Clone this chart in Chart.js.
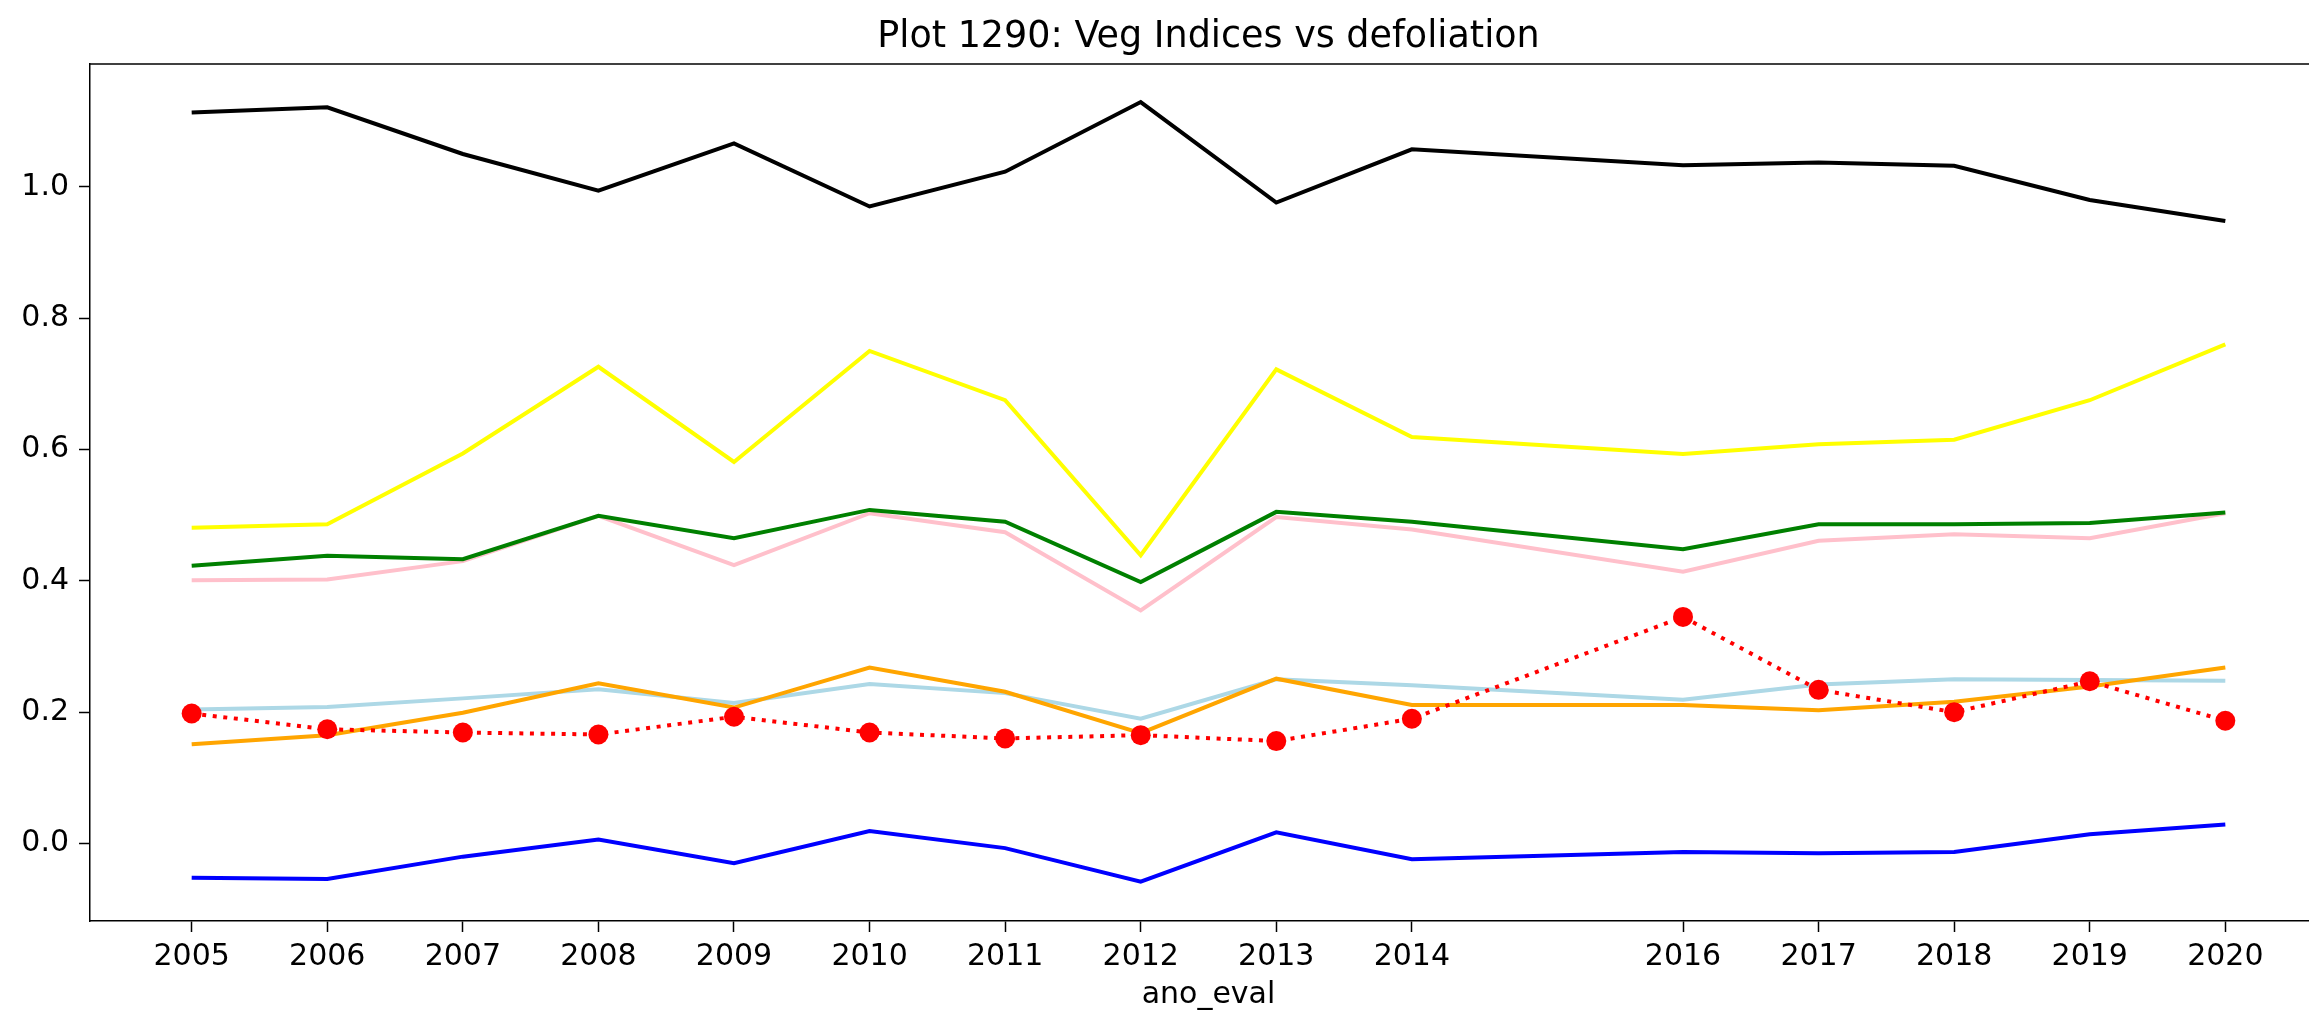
<!DOCTYPE html>
<html>
<head>
<meta charset="utf-8">
<script src="https://cdn.jsdelivr.net/npm/chart.js@4.4.1/dist/chart.umd.min.js"></script>
<style>
  html, body { margin: 0; padding: 0; background: #fff; overflow: hidden; }
  #grafico { display: block; }
</style>
</head>
<body>
<canvas id="grafico" width="2418" height="1015"></canvas>
<script>
// años evaluados (falta 2015)
const anos = [2005, 2006, 2007, 2008, 2009, 2010, 2011, 2012, 2013, 2014, 2016, 2017, 2018, 2019, 2020];
const yTicks = [0.0, 0.2, 0.4, 0.6, 0.8, 1.0];
const titulo = "Plot 1290: Veg Indices vs defoliation";

const serieNegra    = [1.113, 1.121, 1.050, 0.994, 1.066, 0.970, 1.023, 1.129, 0.976, 1.057, 1.033, 1.037, 1.032, 0.980, 0.948];
const serieAmarilla = [0.481, 0.486, 0.594, 0.726, 0.581, 0.750, 0.675, 0.439, 0.722, 0.619, 0.593, 0.608, 0.615, 0.675, 0.760];
const serieRosa     = [0.401, 0.402, 0.430, 0.499, 0.424, 0.503, 0.474, 0.355, 0.497, 0.478, 0.414, 0.461, 0.471, 0.465, 0.503];
const serieVerde    = [0.423, 0.438, 0.433, 0.499, 0.465, 0.508, 0.490, 0.398, 0.505, 0.490, 0.448, 0.486, 0.486, 0.488, 0.504];
const serieCeleste  = [0.204, 0.208, 0.221, 0.235, 0.214, 0.243, 0.229, 0.190, 0.250, 0.241, 0.219, 0.242, 0.250, 0.249, 0.248];
const serieNaranja  = [0.151, 0.165, 0.199, 0.244, 0.207, 0.268, 0.231, 0.168, 0.251, 0.211, 0.211, 0.203, 0.216, 0.239, 0.268];
const serieAzul     = [-0.052, -0.054, -0.020, 0.006, -0.030, 0.019, -0.007, -0.058, 0.017, -0.024, -0.013, -0.015, -0.013, 0.014, 0.029];
const defoliacion   = [0.198, 0.174, 0.169, 0.166, 0.193, 0.169, 0.160, 0.165, 0.156, 0.190, 0.345, 0.234, 0.200, 0.247, 0.187];

const fuente = "'DejaVu Sans', sans-serif";

function puntos(valores) {
  return valores.map((v, i) => ({ x: anos[i], y: v }));
}

function linea(etiqueta, valores, color, orden) {
  return {
    label: etiqueta,
    data: puntos(valores),
    borderColor: color,
    backgroundColor: color,
    borderWidth: 4,
    pointRadius: 0,
    tension: 0,
    order: orden,
  };
}

// marco superior y titulo centrado sobre los ejes, como en matplotlib
const marco = {
  id: "marco",
  afterDraw(chart) {
    const { ctx, chartArea } = chart;
    ctx.save();
    ctx.strokeStyle = "#000";
    ctx.lineWidth = 1.5;
    ctx.beginPath();
    ctx.moveTo(chartArea.left, chartArea.top);
    ctx.lineTo(chartArea.right, chartArea.top);
    ctx.stroke();
    ctx.fillStyle = "#000";
    ctx.font = "36.5px " + fuente;
    ctx.textAlign = "center";
    ctx.textBaseline = "alphabetic";
    ctx.fillText(titulo, (chartArea.left + chartArea.right) / 2, 46.5);
    ctx.restore();
  },
};

const grafico = document.getElementById("grafico");

new Chart(grafico, {
  type: "line",
  data: {
    datasets: [
      linea("indice 1", serieNegra, "#000000", 8),
      linea("indice 2", serieAmarilla, "#ffff00", 7),
      linea("indice 3", serieRosa, "#ffc0cb", 6),
      linea("indice 4", serieVerde, "#008000", 5),
      linea("indice 5", serieCeleste, "#add8e6", 4),
      linea("indice 6", serieNaranja, "#ffa500", 3),
      linea("indice 7", serieAzul, "#0000ff", 2),
      {
        label: "defoliation",
        data: puntos(defoliacion),
        borderColor: "#ff0000",
        backgroundColor: "#ff0000",
        borderWidth: 4,
        borderDash: [4, 6.6],
        pointRadius: 10,
        pointBorderWidth: 0,
        pointStyle: "circle",
        tension: 0,
        order: 1,
      },
    ],
  },
  options: {
    responsive: false,
    animation: false,
    events: [],
    layout: { padding: { left: 0, right: 91, top: 64, bottom: 0 } },
    plugins: {
      legend: { display: false },
      tooltip: { enabled: false },
      title: { display: false },
    },
    scales: {
      x: {
        type: "linear",
        min: 2004.25,
        max: 2020.75,
        afterBuildTicks: (eje) => { eje.ticks = anos.map(v => ({ value: v })); },
        afterFit: (eje) => { eje.height = 94; },
        grid: { display: true, drawOnChartArea: false, drawTicks: true, tickLength: 11, tickWidth: 1.5, tickColor: "#000" },
        border: { display: true, color: "#000", width: 1.5 },
        ticks: {
          autoSkip: false,
          maxRotation: 0,
          padding: 7,
          color: "#000",
          font: { family: fuente, size: 30 },
          callback: (v) => String(v),
        },
        title: {
          display: true,
          text: "ano_eval",
          color: "#000",
          font: { family: fuente, size: 30 },
          padding: { top: 0, bottom: 2 },
        },
      },
      y: {
        min: -0.118,
        max: 1.187,
        afterBuildTicks: (eje) => { eje.ticks = yTicks.map(v => ({ value: v })); },
        afterFit: (eje) => { eje.width = 90; },
        grid: { display: true, drawOnChartArea: false, drawTicks: true, tickLength: 11, tickWidth: 1.5, tickColor: "#000" },
        border: { display: true, color: "#000", width: 1.5 },
        ticks: {
          padding: 10,
          color: "#000",
          font: { family: fuente, size: 30 },
          callback: (v) => v.toFixed(1),
        },
      },
    },
  },
  plugins: [marco],
});
</script>
</body>
</html>
